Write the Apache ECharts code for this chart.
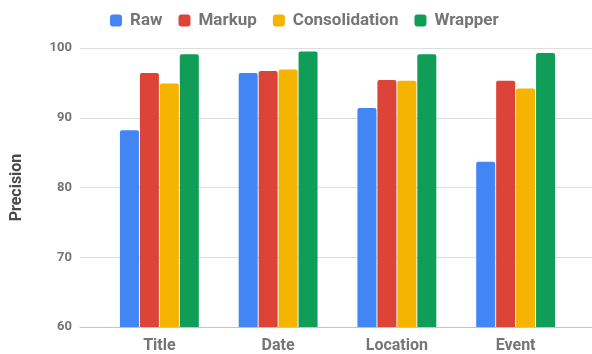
<!DOCTYPE html>
<html>
<head>
<meta charset="utf-8">
<script src="https://cdn.jsdelivr.net/npm/echarts@6/dist/echarts.min.js"></script>
<style>
  html, body { margin: 0; padding: 0; background: #fff; }
  #chart { width: 592px; height: 354px; }
</style>
</head>
<body>
<div id="chart"></div>
<script>
// Precision per extraction field, for four methods
const categories = ['Title', 'Date', 'Location', 'Event'];
const seriesNames = ['Raw', 'Markup', 'Consolidation', 'Wrapper'];
const raw = [88.2, 96.4, 91.4, 83.7];
const markup = [96.4, 96.7, 95.4, 95.3];
const consolidation = [94.9, 96.9, 95.3, 94.2];
const wrapper = [99.1, 99.5, 99.1, 99.3];
const yTicks = [60, 70, 80, 90, 100];

const colors = ['#4285F4', '#DB4437', '#F4B400', '#0F9D58'];
const values = [raw, markup, consolidation, wrapper];
const font = 'Roboto, "Liberation Sans", sans-serif';

const chart = echarts.init(document.getElementById('chart'), null, { renderer: 'canvas' });

chart.setOption({
  animation: false,
  color: colors,
  legend: {
    top: 7,
    left: 105,
    itemWidth: 12,
    itemHeight: 12,
    itemGap: 16,
    icon: 'roundRect',
    data: seriesNames,
    textStyle: { fontFamily: font, fontSize: 17, fontWeight: 'bold', color: '#757575', padding: [0, 0, 0, 3] }
  },
  grid: [
    // full-width grid carrying the value axis and gridlines
    { left: 80, right: 0, top: 48, bottom: 27, containLabel: false },
    // inner grid for the bar groups
    { left: 100, right: 17, top: 48, bottom: 27, containLabel: false }
  ],
  xAxis: [
    {
      gridIndex: 0, type: 'value', min: 0, max: 1,
      axisLine: { show: true, lineStyle: { color: '#c4c4c4', width: 1 } },
      axisTick: { show: false }, axisLabel: { show: false }, splitLine: { show: false }
    },
    {
      gridIndex: 1, type: 'category', data: categories,
      axisLine: { show: false }, axisTick: { show: false },
      axisLabel: { fontFamily: font, fontSize: 16, fontWeight: 'bold', color: '#757575', margin: 11 }
    }
  ],
  yAxis: [
    {
      gridIndex: 0, type: 'value', min: yTicks[0], max: yTicks[yTicks.length - 1], interval: 10,
      name: 'Precision', nameLocation: 'middle', nameGap: 55, nameRotate: 90,
      nameTextStyle: { fontFamily: font, fontSize: 16, fontWeight: 'bold', color: '#4a4a4a' },
      axisLine: { show: false }, axisTick: { show: false },
      axisLabel: { fontFamily: font, fontSize: 13, fontWeight: 'bold', color: '#757575', margin: 8 },
      splitLine: { lineStyle: { color: '#dedede', width: 1 } }
    },
    {
      gridIndex: 1, type: 'value', min: yTicks[0], max: yTicks[yTicks.length - 1], interval: 10,
      show: false, splitLine: { show: false }
    }
  ],
  series: seriesNames.map((name, i) => ({
    name: name,
    type: 'bar',
    xAxisIndex: 1,
    yAxisIndex: 1,
    data: values[i],
    barWidth: 19,
    barGap: '5%',
    itemStyle: { color: colors[i], borderRadius: [2, 2, 0, 0] }
  }))
});
</script>
</body>
</html>
